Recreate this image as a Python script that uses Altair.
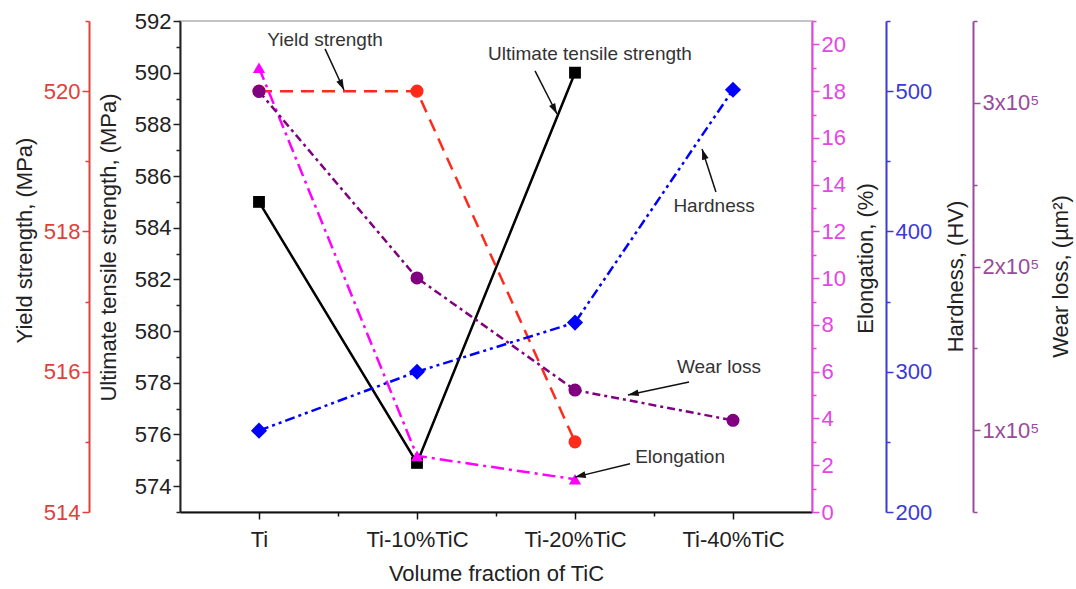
import json
import math
import altair as alt
import pandas as pd

# ---------------- data ----------------
categories = ["Ti", "Ti-10%TiC", "Ti-20%TiC", "Ti-40%TiC"]
positions = [1, 2, 3, 4]
yield_strength = [520.0, 520.0, 515.0]          # MPa (Ti .. Ti-20%TiC)
uts = [585.0, 574.9, 590.0]                     # MPa
elongation = [19.0, 2.4, 1.4]                   # %
hardness = [258.0, 300.0, 335.0, 501.0]         # HV
wear_loss = [3.07e5, 1.93e5, 1.245e5, 1.06e5]   # um^2

# annotations (x in category units, y in UTS units)
ann_text = ["Yield strength", "Ultimate tensile strength", "Hardness", "Wear loss", "Elongation"]
ann_x = [1.418, 3.095, 3.880, 3.911, 3.665]
ann_y = [591.26, 590.72, 584.84, 578.61, 575.13]
arr_x1 = [1.418, 2.747, 3.892, 3.722, 3.348]
arr_y1 = [590.92, 590.07, 585.38, 578.03, 574.87]
arr_x2 = [1.538, 2.886, 3.804, 3.335, 3.000]
arr_y2 = [589.33, 588.40, 587.05, 577.53, 574.35]

# ---------------- layout ----------------
W, H = 632, 491
XDOM = [0.5, 4.5]
UTS_DOM = [573, 592]
FONT = "Liberation Sans"
FS = 22

cat_js = json.dumps(categories)
x_axis = alt.Axis(
    title="Volume fraction of TiC",
    values=[1, 1.5, 2, 2.5, 3, 3.5, 4],
    labelExpr=f"datum.value % 1 === 0 ? {cat_js}[datum.value - 1] : ''",
    grid=False, domainColor="#111111", domainWidth=2, tickColor="#111111", tickWidth=1.5,
    tickSize={"condition": {"test": "datum.value % 1 === 0", "value": 7}, "value": 4},
    labelFont=FONT, labelFontSize=FS, labelColor="#222222", labelPadding=10,
    labelOverlap=False, labelFlush=False,
    titleFont=FONT, titleFontSize=FS, titleFontWeight="normal", titleColor="#222222", titlePadding=13,
)


def xenc(field="x"):
    return alt.X(f"{field}:Q", scale=alt.Scale(domain=XDOM, nice=False, zero=False), axis=x_axis)


def yaxis(title, orient, color, values, major_test, label_expr, offset, title_pad, title_y):
    kw = {}
    if orient == "right":
        kw = dict(titleAngle=270, titleBaseline="top")
    return alt.Axis(
        title=title, orient=orient, offset=offset, values=values, labelExpr=label_expr,
        grid=False, domainColor=color, domainWidth=2, tickColor=color, tickWidth=1.5,
        tickSize={"condition": {"test": major_test, "value": 7}, "value": 4},
        labelFont=FONT, labelFontSize=FS, labelColor=color, labelPadding=2,
        labelOverlap=False, labelFlush=False,
        titleFont=FONT, titleFontSize=FS, titleFontWeight="normal", titleColor="#222222",
        titlePadding=title_pad, titleY=title_y, **kw,
    )


def series(df, field, domain, axis, color, dash, shape, size):
    mark_kw = dict(color=color, strokeWidth=2.5,
                   point=alt.OverlayMarkDef(shape=shape, size=size, filled=True, color=color, opacity=1))
    if dash:
        mark_kw["strokeDash"] = dash
    return alt.Chart(df).mark_line(**mark_kw).encode(
        x=xenc(),
        y=alt.Y(f"{field}:Q", scale=alt.Scale(domain=domain, nice=False, zero=False), axis=axis),
    )


df3 = pd.DataFrame({"x": positions[:3], "ys": yield_strength, "uts": uts, "el": elongation})
df4 = pd.DataFrame({"x": positions, "hv": hardness, "wl": wear_loss})

uts_layer = series(
    df3, "uts", UTS_DOM,
    yaxis("Ultimate tensile strength, (MPa)", "left", "#222222", list(range(573, 593)),
          "datum.value % 2 === 0", "datum.value % 2 === 0 ? datum.value : ''", 0, 14, 226),
    "#000000", None, "square", 140)

ys_layer = series(
    df3, "ys", [514, 521],
    yaxis("Yield strength, (MPa)", "left", "#e0403a", list(range(514, 522)),
          "datum.value % 2 === 0", "datum.value % 2 === 0 ? datum.value : ''", 91, 7, 219),
    "#ff2a1a", [13, 8], "circle", 170)

el_layer = series(
    df3, "el", [0, 21],
    yaxis("Elongation, (%)", "right", "#e445e4", list(range(0, 22)),
          "datum.value % 2 === 0", "datum.value % 2 === 0 ? datum.value : ''", 0, 10, 237),
    "#ff00ff", [13, 5, 3, 5], "triangle-up", 150)

hv_layer = series(
    df4, "hv", [200, 550],
    yaxis("Hardness, (HV)", "right", "#3a3ad8", list(range(200, 551, 50)),
          "datum.value % 100 === 0", "datum.value % 100 === 0 ? datum.value : ''", 74, 14, 255),
    "#0000ff", [10, 4, 3, 4, 3, 4], "diamond", 260)

wl_layer = series(
    df4, "wl", [50000, 350000],
    yaxis("Wear loss, (µm²)", "right", "#9a4a9a", list(range(50000, 350001, 50000)),
          "datum.value % 100000 === 0",
          "datum.value % 100000 === 0 ? (datum.value / 100000) + 'x10⁵' : ''", 161, 12, 255),
    "#800080", [8, 4, 3, 4], "circle", 170)

# ---------------- annotations ----------------
ann_df = pd.DataFrame({"x": ann_x, "y": ann_y, "t": ann_text})
px_per_x = W / (XDOM[1] - XDOM[0])
px_per_y = H / (UTS_DOM[1] - UTS_DOM[0])
angles = []
for a, b, c, d in zip(arr_x1, arr_y1, arr_x2, arr_y2):
    dx = (c - a) * px_per_x
    dy = -(d - b) * px_per_y
    angles.append(math.degrees(math.atan2(dx, -dy)) % 360)
arr_df = pd.DataFrame({"x": arr_x1, "y": arr_y1, "x2": arr_x2, "y2": arr_y2, "ang": angles})
head_df = pd.DataFrame({"x": arr_x2, "y": arr_y2, "ang": angles})

yann = alt.Y("y:Q", scale=alt.Scale(domain=UTS_DOM, nice=False, zero=False), axis=None)

text_layer = alt.Chart(ann_df).mark_text(
    font=FONT, fontSize=19, color="#333333", align="center", baseline="middle"
).encode(x=xenc(), y=yann, text="t:N")

rule_layer = alt.Chart(arr_df).mark_rule(color="#111111", strokeWidth=1.5).encode(
    x=xenc(), x2="x2:Q", y=yann, y2="y2:Q")

head_layer = alt.Chart(head_df).mark_point(
    shape="M0,0L-0.35,1.1L0.35,1.1Z", filled=True, color="#111111", size=380, opacity=1
).encode(x=xenc(), y=yann, angle=alt.Angle("ang:Q", scale=None))

chart = alt.layer(
    uts_layer, ys_layer, el_layer, hv_layer, wl_layer, text_layer, rule_layer, head_layer
).resolve_scale(y="independent").properties(
    width=W, height=H,
    autosize=alt.AutoSizeParams(type="none"),
    padding={"left": 180, "top": 21, "right": 1076 - 180 - W, "bottom": 589 - 21 - H},
    background="white",
).configure_view(stroke="#c4c4c4", strokeWidth=2)

chart.save("out.html", embed_options={"renderer": "svg", "actions": False})
